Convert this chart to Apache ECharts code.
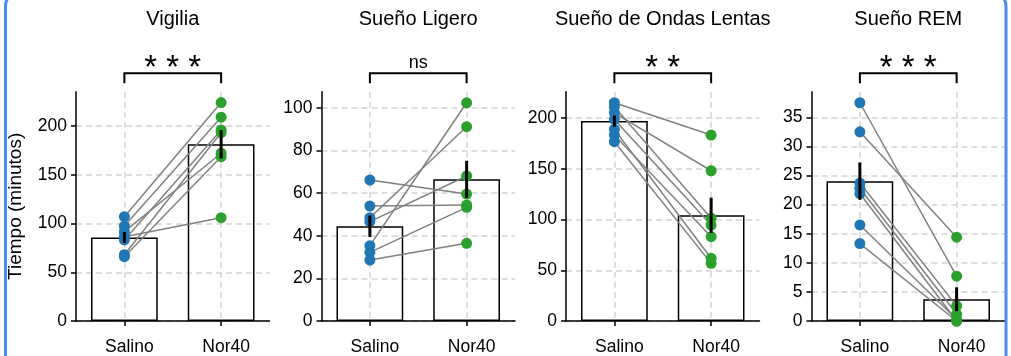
<!DOCTYPE html>
<html><head><meta charset="utf-8">
<script src="https://cdn.jsdelivr.net/npm/echarts@6/dist/echarts.min.js"></script>
<style>html,body{margin:0;padding:0;background:#fff}#c{width:1011px;height:356px}</style>
</head><body><div id="c"></div>
<script>
const titles = ['Vigilia', 'Sueño Ligero', 'Sueño de Ondas Lentas', 'Sueño REM'];
const categories = ['Salino', 'Nor40'];
const salinoVigilia = [107.1, 97.5, 91.7, 86.6, 83.2, 68.0, 66.0];
const nor40Vigilia  = [224.2, 209.2, 172.2, 106.1, 196.1, 193.3, 168.7];
const salinoLigero  = [66.1, 53.9, 48.4, 46.6, 35.3, 32.2, 28.6];
const nor40Ligero   = [59.5, 54.4, 91.1, 68.0, 102.3, 53.3, 36.4];
const salinoOndas   = [215.1, 211.1, 205.2, 198.7, 188.9, 183.3, 176.7];
const nor40Ondas    = [183.3, 101.2, 148.1, 94.6, 61.8, 83.1, 56.8];
const salinoREM     = [37.5, 32.5, 23.7, 22.8, 21.9, 16.5, 13.3];
const nor40REM      = [7.7, 14.4, 2.6, 1.2, 0.0, 0.3, 0.0];
const significance  = ['* * *', 'ns', '* *', '* * *'];
const yMax      = [235.4, 107.5, 226, 39.4];
const yInterval = [50, 20, 50, 5];
const yTicks    = [[0, 50, 100, 150, 200], [0, 20, 40, 60, 80, 100], [0, 50, 100, 150, 200], [0, 5, 10, 15, 20, 25, 30, 35]];
const yName = 'Tiempo (minutos)';

const panels = [
  [salinoVigilia, nor40Vigilia],
  [salinoLigero, nor40Ligero],
  [salinoOndas, nor40Ondas],
  [salinoREM, nor40REM]
];

const FONT = '"Liberation Sans", Arial, sans-serif';
const gridLefts = [76, 321.5, 566, 811.5];
const GRID_W = 193.5, GRID_TOP = 91.7, GRID_H = 229.3;
const BLUE = '#1f77b4', GREEN = '#2ca02c';

function mean(a) { return a.reduce((s, v) => s + v, 0) / a.length; }
function sem(a) {
  const m = mean(a);
  const v = a.reduce((s, x) => s + (x - m) * (x - m), 0) / (a.length - 1);
  return Math.sqrt(v / a.length);
}

const grid = [], xAxis = [], yAxis = [], series = [];
const dash = { color: '#d3d3d3', width: 1.5, type: [6, 4] };

panels.forEach((p, i) => {
  grid.push({ left: gridLefts[i], top: GRID_TOP, width: GRID_W, height: GRID_H, containLabel: false });
  xAxis.push({
    type: 'category', gridIndex: i, data: categories, boundaryGap: true,
    axisLine: { lineStyle: { color: '#000', width: 1.5 } },
    axisTick: { show: true, alignWithLabel: true, length: 5, lineStyle: { color: '#000', width: 1.5 } },
    axisLabel: { color: '#000', fontFamily: FONT, fontSize: 17.5, margin: 17, padding: [0, 0, 0, 10] },
    splitLine: { show: true, alignWithLabel: true, lineStyle: dash }
  });
  yAxis.push({
    type: 'value', gridIndex: i, min: 0, max: yMax[i], interval: yInterval[i],
    name: i === 0 ? yName : '', nameLocation: 'middle', nameGap: 51,
    nameTextStyle: { color: '#000', fontFamily: FONT, fontSize: 19 },
    axisLine: { show: true, lineStyle: { color: '#000', width: 1.5 } },
    axisTick: { show: true, length: 5, customValues: yTicks[i], lineStyle: { color: '#000', width: 1.5 } },
    axisLabel: { color: '#000', fontFamily: FONT, fontSize: 17.5, margin: 9, customValues: yTicks[i] },
    splitLine: { show: true, lineStyle: dash }
  });
  const [s, n] = p;
  series.push({
    type: 'bar', xAxisIndex: i, yAxisIndex: i, data: [mean(s), mean(n)], barWidth: '69%',
    itemStyle: { color: 'rgba(255,255,255,0)', borderColor: '#000', borderWidth: 1.5 }, z: 1, silent: true
  });
  s.forEach((v, j) => {
    series.push({
      type: 'line', xAxisIndex: i, yAxisIndex: i, data: [v, n[j]], symbol: 'none',
      lineStyle: { color: '#808080', width: 1.5 }, z: 2, silent: true
    });
  });
  series.push({
    type: 'scatter', xAxisIndex: i, yAxisIndex: i, data: s.map(v => [0, v]),
    symbolSize: 11, itemStyle: { color: BLUE, opacity: 1 }, z: 3, silent: true
  });
  series.push({
    type: 'scatter', xAxisIndex: i, yAxisIndex: i, data: n.map(v => [1, v]),
    symbolSize: 11, itemStyle: { color: GREEN, opacity: 1 }, z: 3, silent: true
  });
  series.push({
    type: 'custom', xAxisIndex: i, yAxisIndex: i, z: 4, silent: true,
    data: [[0, mean(s), sem(s)], [1, mean(n), sem(n)]],
    renderItem: (params, api) => {
      const x = api.value(0), m = api.value(1), e = api.value(2);
      const a = api.coord([x, m - e]), b = api.coord([x, m + e]);
      return { type: 'line', shape: { x1: a[0], y1: a[1], x2: b[0], y2: b[1] }, style: { stroke: '#000', lineWidth: 3 } };
    }
  });
  series.push({
    type: 'custom', xAxisIndex: i, yAxisIndex: i, z: 5, silent: true, clip: false,
    data: [[0, 0]],
    renderItem: (params, api) => {
      const x0 = api.coord([0, 0])[0], x1 = api.coord([1, 0])[0];
      const top = params.coordSys.y;
      const yb = top - 18.4, yv = top - 8.4, mid = (x0 + x1) / 2;
      const sig = significance[i];
      const children = [
        { type: 'polyline', shape: { points: [[x0, yv], [x0, yb], [x1, yb], [x1, yv]] }, style: { stroke: '#000', lineWidth: 2, fill: null } },
        { type: 'text', x: mid, y: 19, style: { text: titles[i], font: '20px ' + FONT, align: 'center', verticalAlign: 'middle', fill: '#000' } }
      ];
      if (sig === 'ns') {
        children.push({ type: 'text', x: mid, y: top - 29, style: { text: sig, font: '18px ' + FONT, align: 'center', verticalAlign: 'middle', fill: '#000' } });
      } else {
        children.push({ type: 'text', x: mid, y: top - 22.5, style: { text: sig, font: '33px ' + FONT, align: 'center', verticalAlign: 'middle', fill: '#000' } });
      }
      return { type: 'group', children };
    }
  });
});

const chart = echarts.init(document.getElementById('c'), null, { renderer: 'canvas' });
chart.setOption({
  animation: false,
  backgroundColor: '#fff',
  grid, xAxis, yAxis, series,
  graphic: [{
    type: 'rect', silent: true, z: 100,
    shape: { x: 5.5, y: -8, width: 1000.5, height: 380, r: 14 },
    style: { fill: null, stroke: '#4b8bf4', lineWidth: 3 }
  }]
});
</script></body></html>
